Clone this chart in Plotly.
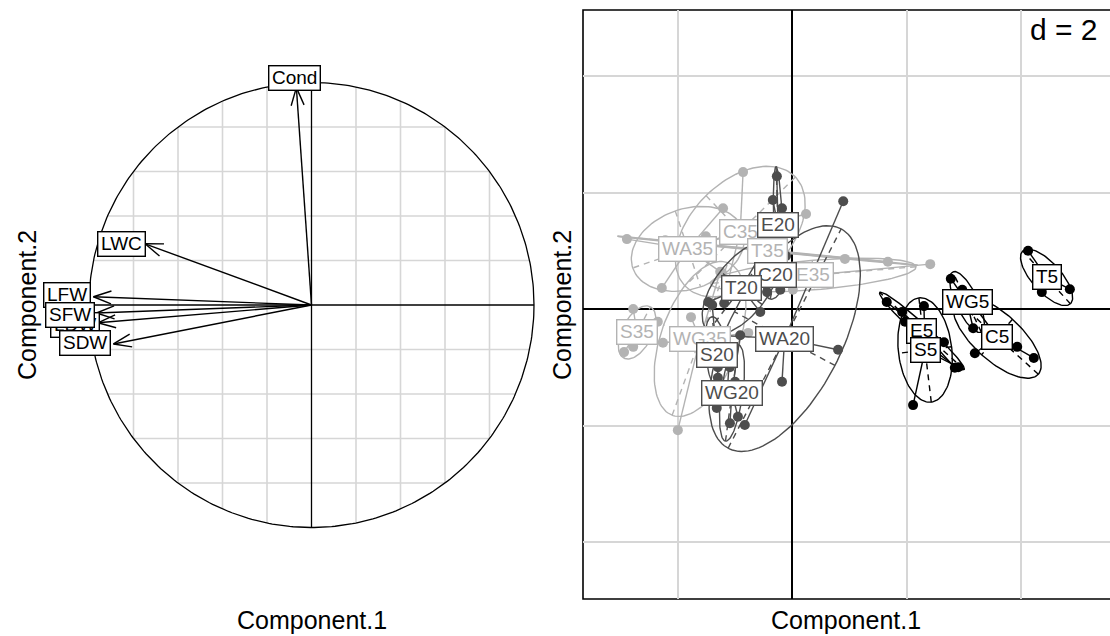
import numpy as np
import plotly.graph_objects as go

W, H = 1110, 636
FONT = "Liberation Sans, Arial, sans-serif"
PAD = "\u200a"

# ---------------- left panel: correlation circle ----------------
var_names = ["Cond", "LWC", "LFW", "LDW", "SFW", "SDW"]
var_x = [-0.068, -0.748, -0.980, -0.960, -0.966, -0.890]
var_y = [0.977, 0.275, 0.037, -0.080, -0.036, -0.175]
var_lab_x = [-0.076, -0.856, -1.097, -1.063, -1.085, -1.018]
var_lab_y = [1.020, 0.276, 0.045, -0.090, -0.045, -0.171]
circle_grid = [-0.8, -0.6, -0.4, -0.2, 0.2, 0.4, 0.6, 0.8]

# ---------------- right panel: class scores ----------------
point_group = (["T5"] * 3 + ["WG5"] * 3 + ["C5"] * 4 + ["E5"] * 4 + ["S5"] * 5 +
               ["E20"] * 5 + ["C20"] * 4 + ["T20"] * 4 + ["WA20"] * 5 + ["S20"] * 5 + ["WG20"] * 5 +
               ["C35"] * 4 + ["WA35"] * 5 + ["T35"] * 4 + ["E35"] * 4 + ["S35"] * 4 + ["WG35"] * 5)
point_x = [4.12, 4.36, 4.85,
           2.77, 3.16, 3.23,
           3.19, 4.22, 2.97, 3.93,
           1.65, 1.92, 2.65, 2.84,
           2.11, 2.90, 1.97, 2.30, 2.32,
           -0.27, -0.34, -0.18, -0.25, -0.21,
           -0.42, -0.11, -0.21, -0.44,
           -1.47, -1.19, -0.56, -0.35,
           0.89, 0.80, -0.18, -0.83, -1.35,
           -1.40, -1.30, -1.09, -1.30, -1.51,
           -1.32, -1.09, -0.95, -0.91, -1.00,
           -0.86, 0.24, -1.16, -1.86,
           -2.89, -2.28, -1.21, -1.23, -1.51,
           -2.22, -2.10, 0.92, 1.67,
           0.01, 2.41, -0.56, -0.39,
           -2.78, -2.35, -2.78, -2.94,
           -2.00, -2.26, -1.26, -0.77, -1.77]
point_y = [1.00, 0.29, 0.34,
           0.52, -0.33, 0.17,
           -0.76, -0.84, 0.33, -0.65,
           0.12, -0.05, -0.57, -1.01,
           -1.65, -1.00, -0.22, 0.05, -0.70,
           2.28, 1.87, 1.73, 0.81, 0.50,
           0.81, 0.91, 0.33, 0.29,
           0.12, 0.10, -0.05, 1.27,
           1.85, -0.70, -1.25, -1.99, -0.45,
           0.07, -1.00, -1.00, -1.18, -0.88,
           -1.70, -1.96, -1.85, -0.45, -1.25,
           2.35, 1.63, 0.33, 1.01,
           1.20, 0.36, 1.73, 0.62, 1.25,
           1.18, 1.15, 0.86, 0.81,
           0.33, 0.77, 0.46, 0.77,
           0.00, -0.22, -0.65, -0.74,
           -2.08, -0.58, 0.64, -0.41, -0.14]
level_order = ["35", "20", "5"]
level_color = {"5": "#000000", "20": "#4d4d4d", "35": "#b3b3b3"}
x2_ticks = [-2, 0, 2, 4]
y2_ticks = [-4, -2, 0, 2, 4]
d_text = "d = 2"

fig = go.Figure()

# ---- left panel drawing ----
gx, gy = [], []
for g in circle_grid:
    h = float(np.sqrt(1 - g * g))
    gx += [g, g, None, -h, h, None]
    gy += [-h, h, None, g, g, None]
fig.add_trace(go.Scatter(x=gx, y=gy, mode="lines", line=dict(color="#d6d6d6", width=1.6),
                         hoverinfo="skip", xaxis="x", yaxis="y"))
t = np.linspace(0, 2 * np.pi, 400)
fig.add_trace(go.Scatter(x=np.cos(t), y=np.sin(t), mode="lines", line=dict(color="black", width=1.3),
                         hoverinfo="skip", xaxis="x", yaxis="y"))
fig.add_trace(go.Scatter(x=[-1, 1, None, 0, 0], y=[0, 0, None, -1, 1], mode="lines",
                         line=dict(color="black", width=1.3), hoverinfo="skip", xaxis="x", yaxis="y"))
ax, ay = [], []
L, th = 0.085, np.deg2rad(20)
for vx, vy in zip(var_x, var_y):
    ax += [0, vx, None]
    ay += [0, vy, None]
    n = np.hypot(vx, vy)
    ux, uy = vx / n, vy / n
    for s in (th, -th):
        rx = ux * np.cos(s) - uy * np.sin(s)
        ry = ux * np.sin(s) + uy * np.cos(s)
        ax += [vx, vx - L * rx, None]
        ay += [vy, vy - L * ry, None]
fig.add_trace(go.Scatter(x=ax, y=ay, mode="lines", line=dict(color="black", width=1.4),
                         hoverinfo="skip", xaxis="x", yaxis="y"))

annotations = []
for name, lx, ly in zip(var_names, var_lab_x, var_lab_y):
    annotations.append(dict(x=lx, y=ly, xref="x", yref="y", text=PAD + name + PAD, showarrow=False,
                            font=dict(family=FONT, size=19, color="black"), bgcolor="white",
                            bordercolor="black", borderwidth=1.4, borderpad=1))

# ---- right panel drawing ----
px_arr = np.array(point_x)
py_arr = np.array(point_y)
pg = np.array(point_group)
groups = list(dict.fromkeys(point_group))

def level_of(g):
    return g.lstrip("CEGSTWA")

for lev in level_order:
    col = level_color[lev]
    ex, ey, dx, dy, sx, sy, mx, my = [], [], [], [], [], [], [], []
    for g in groups:
        if level_of(g) != lev:
            continue
        xs = px_arr[pg == g]
        ys = py_arr[pg == g]
        cx, cy = xs.mean(), ys.mean()
        cov = np.cov(np.vstack([xs, ys]), bias=True)
        vals, vecs = np.linalg.eigh(cov)
        vals = np.clip(vals, 0, None)
        a = 1.5 * np.sqrt(vals[1]); b = 1.5 * np.sqrt(vals[0])
        v1 = vecs[:, 1]; v2 = vecs[:, 0]
        tt = np.linspace(0, 2 * np.pi, 120)
        exs = cx + a * np.cos(tt) * v1[0] + b * np.sin(tt) * v2[0]
        eys = cy + a * np.cos(tt) * v1[1] + b * np.sin(tt) * v2[1]
        ex += list(exs) + [None]
        ey += list(eys) + [None]
        dx += [cx - a * v1[0], cx + a * v1[0], None, cx - b * v2[0], cx + b * v2[0], None]
        dy += [cy - a * v1[1], cy + a * v1[1], None, cy - b * v2[1], cy + b * v2[1], None]
        for x_, y_ in zip(xs, ys):
            sx += [cx, x_, None]
            sy += [cy, y_, None]
        mx += list(xs); my += list(ys)
        annotations.append(dict(x=cx, y=cy, xref="x2", yref="y2", text=PAD + g + PAD, showarrow=False,
                                font=dict(family=FONT, size=19, color=col), bgcolor="white",
                                bordercolor=col, borderwidth=1.4, borderpad=1))
    fig.add_trace(go.Scatter(x=ex, y=ey, mode="lines", line=dict(color=col, width=1.4),
                             hoverinfo="skip", xaxis="x2", yaxis="y2"))
    fig.add_trace(go.Scatter(x=dx, y=dy, mode="lines", line=dict(color=col, width=1.4, dash="6px,5px"),
                             hoverinfo="skip", xaxis="x2", yaxis="y2"))
    fig.add_trace(go.Scatter(x=sx, y=sy, mode="lines", line=dict(color=col, width=1.4),
                             hoverinfo="skip", xaxis="x2", yaxis="y2"))
    fig.add_trace(go.Scatter(x=mx, y=my, mode="markers", marker=dict(color=col, size=10),
                             hoverinfo="skip", xaxis="x2", yaxis="y2"))

# axis titles
for txt, x, y, ang in [("Component.1", 312, 620, 0), ("Component.2", 27, 305, -90),
                       ("Component.1", 846, 620, 0), ("Component.2", 562, 305, -90)]:
    annotations.append(dict(x=x / W, y=1 - y / H, xref="paper", yref="paper", text=txt,
                            showarrow=False, textangle=ang, xanchor="center", yanchor="middle",
                            font=dict(family=FONT, size=25, color="black")))
annotations.append(dict(x=1100 / W, y=1 - 30 / H, xref="paper", yref="paper", text=d_text,
                        showarrow=False, xanchor="right", yanchor="middle",
                        font=dict(family=FONT, size=30, color="black")))

shapes = [
    dict(type="rect", xref="paper", yref="paper", x0=1017 / W, x1=1.0, y0=1 - 50 / H, y1=1 - 11 / H,
         fillcolor="white", line=dict(width=0), layer="between"),
    dict(type="rect", xref="paper", yref="paper", x0=583 / W, x1=1.004, y0=1 - 599 / H, y1=1 - 10 / H,
         line=dict(color="black", width=1.6), layer="between"),
]

cx0, cy0, r = 311.5, 305.0, 222.5
ox, oy, sxp, syp = 792.3, 309.0, 57.23, 58.25
fig.update_layout(
    width=W, height=H, margin=dict(l=0, r=0, t=0, b=0),
    paper_bgcolor="white", plot_bgcolor="white", showlegend=False,
    xaxis=dict(domain=[40 / W, 580 / W], range=[(40 - cx0) / r, (580 - cx0) / r], visible=False),
    yaxis=dict(domain=[1 - 590 / H, 1 - 20 / H], range=[(cy0 - 590) / r, (cy0 - 20) / r], visible=False),
    xaxis2=dict(domain=[583 / W, 1.0], range=[(583 - ox) / sxp, (1110 - ox) / sxp], anchor="y2",
                tickvals=x2_ticks, showticklabels=False, ticks="", showgrid=True, gridcolor="#d6d6d6",
                gridwidth=1.6, zeroline=True, zerolinecolor="black", zerolinewidth=1.6, showline=False),
    yaxis2=dict(domain=[1 - 599 / H, 1 - 10 / H], range=[(oy - 599) / syp, (oy - 10) / syp], anchor="x2",
                tickvals=y2_ticks, showticklabels=False, ticks="", showgrid=True, gridcolor="#d6d6d6",
                gridwidth=1.6, zeroline=True, zerolinecolor="black", zerolinewidth=1.6, showline=False),
    annotations=annotations, shapes=shapes,
)
fig.write_html("out.html")
